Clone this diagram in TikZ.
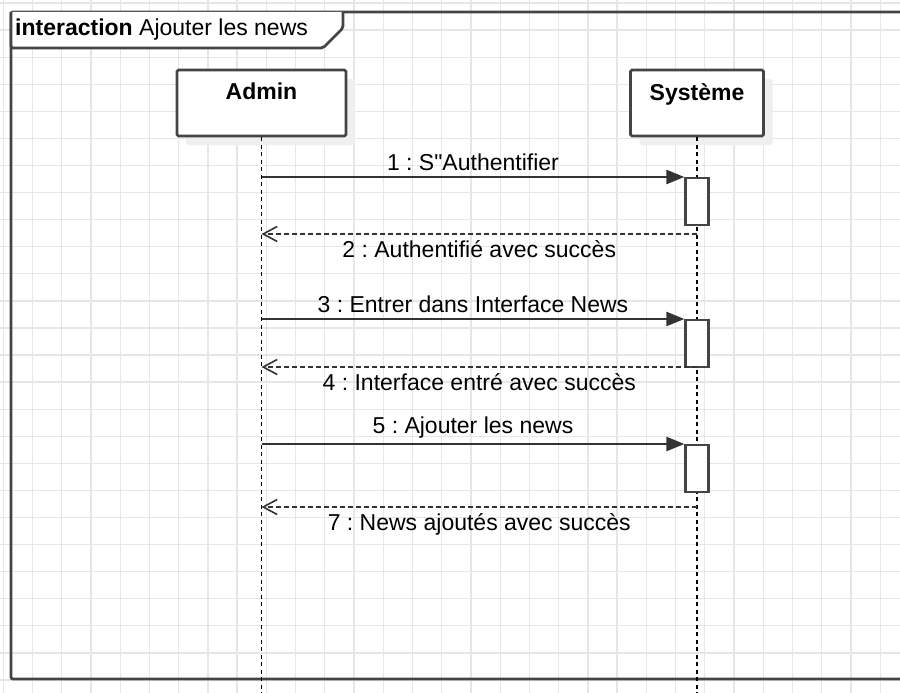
\documentclass[tikz,border=0pt]{standalone}
\usepackage{fontspec}
\setmainfont{Liberation Sans}
\usepackage{tikz}
\usetikzlibrary{arrows.meta}
\usetikzlibrary{positioning,calc,shadows}

\definecolor{framegray}{HTML}{444444}
\definecolor{linegray}{HTML}{333333}
\definecolor{gridgray}{HTML}{E6E6E6}
\definecolor{shadegray}{HTML}{EFEFEF}

\newcommand{\diafont}{\fontsize{23}{27}\selectfont}
\frenchspacing

\tikzset{
  gridline/.style={gridgray, line width=1.3pt},
  frameline/.style={framegray, line width=2.8pt, rounded corners=2pt},
  headbox/.style={draw=framegray, line width=2.6pt, fill=white, rounded corners=1.5pt,
    minimum height=66pt, inner sep=0pt,
    drop shadow={shadow xshift=9pt, shadow yshift=-9pt, fill=shadegray, opacity=1}},
  headname/.style={anchor=north, yshift=-11pt, font=\diafont\bfseries},
  lifeline/.style={black, line width=1.6pt, dash pattern=on 4pt off 3.5pt},
  actbar/.style={draw=framegray, line width=2.2pt, fill=white, anchor=north,
    minimum width=23pt, minimum height=47pt, inner sep=0pt},
  call/.style={linegray, line width=2.4pt, -{Triangle[length=18pt,width=14pt]}},
  reply/.style={linegray, line width=2.2pt, dash pattern=on 5pt off 3pt,
    -{Straight Barb[length=14pt,width=15pt,line width=1.6pt]}},
  msg/.style={font=\diafont, text=black, inner sep=5pt}
}

\begin{document}
\begin{tikzpicture}[x=1pt,y=-1pt]
\clip (0,0) rectangle (900,693);
\fill[white] (0,0) rectangle (900,693);

% background grid
\foreach \i in {0,...,30}
   \draw[gridline] ({3.3+29.23*\i},0) -- ++(0,693);
\foreach \j in {0,...,25}
   \draw[gridline] (0,{3+27.08*\j}) -- ++(900,0);

% interaction frame
\draw[frameline] (910,12) -- (11,12) -- (11,679) -- (910,679);
\draw[frameline, fill=white] (11,12) -- (11,48) -- (323,48) -- (343,28) -- (343,12);
\node[anchor=west, font=\diafont, inner sep=0pt] (title) at (15,30) {\textbf{interaction} Ajouter les news};

% lifelines
\node[headbox, minimum width=169pt, label={[headname]north:Admin}] (admin) at (261.5,103) {};
\node[headbox, minimum width=133pt, label={[headname]north:Système}] (sys) at (697,103) {};
\draw[lifeline] (admin.south) -- ++(0,570);
\draw[lifeline] (sys.south) -- ++(0,570);

\foreach \n/\y in {1/177, 2/319, 3/444}
   \node[actbar] (act\n) at (sys.south |- 0,\y) {};

% messages
\draw[call] (admin.south |- act1.north) -- (act1.north west)
   node[msg, midway, above] {1 : S\textquotedbl Authentifier};
\draw[reply] (sys.south |- 0,234) -- (admin.south |- 0,234)
   node[msg, midway, below] {2 : Authentifié avec succès};

\draw[call] (admin.south |- act2.north) -- (act2.north west)
   node[msg, midway, above] {3 : Entrer dans Interface News};
\draw[reply] (sys.south |- 0,367) -- (admin.south |- 0,367)
   node[msg, midway, below] {4 : Interface entré avec succès};

\draw[call] (admin.south |- act3.north) -- (act3.north west)
   node[msg, midway, above] {5 : Ajouter les news};
\draw[reply] (sys.south |- 0,507) -- (admin.south |- 0,507)
   node[msg, midway, below] {7 : News ajoutés avec succès};

\end{tikzpicture}
\end{document}
